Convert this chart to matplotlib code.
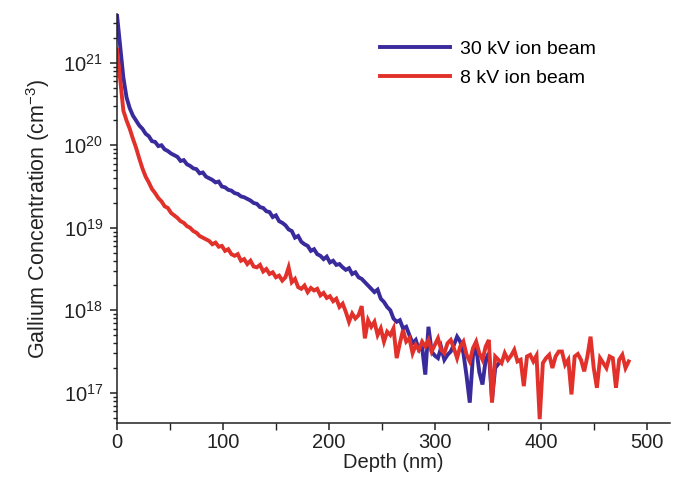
import numpy as np
import matplotlib
matplotlib.use("Agg")
import matplotlib.pyplot as plt
from matplotlib.ticker import LogLocator, FixedLocator, MultipleLocator, NullFormatter, FuncFormatter

plt.rcParams['font.family'] = ['Liberation Sans', 'DejaVu Sans']
plt.rcParams['mathtext.fontset'] = 'custom'
plt.rcParams['mathtext.rm'] = 'Liberation Sans'
plt.rcParams['mathtext.it'] = 'Liberation Sans:italic'
plt.rcParams['mathtext.bf'] = 'Liberation Sans:bold'

# Depth grids (nm)
depth_30kV = np.arange(0, 361, 3)
depth_8kV = np.arange(0, 484, 3)

# log10 of Ga concentration (cm^-3)
log_conc_30kV = [
    21.58, 21.20, 20.82, 20.58, 20.45, 20.36, 20.30, 20.24, 20.20, 20.14,
    20.11, 20.05, 20.04, 19.99, 20.00, 19.95, 19.93, 19.90, 19.88, 19.86,
    19.81, 19.82, 19.77, 19.75, 19.72, 19.71, 19.66, 19.67, 19.62, 19.60,
    19.58, 19.55, 19.56, 19.50, 19.49, 19.46, 19.45, 19.42, 19.41, 19.38,
    19.37, 19.35, 19.33, 19.30, 19.29, 19.25, 19.24, 19.20, 19.19, 19.13,
    19.15, 19.08, 19.06, 19.03, 18.98, 18.96, 18.88, 18.90, 18.83, 18.80,
    18.78, 18.72, 18.74, 18.68, 18.66, 18.62, 18.65, 18.58, 18.60, 18.55,
    18.56, 18.52, 18.49, 18.51, 18.44, 18.46, 18.40, 18.38, 18.34, 18.30,
    18.26, 18.22, 18.25, 18.14, 18.10, 18.04, 18.00, 17.90, 17.86, 17.88,
    17.78, 17.80, 17.70, 17.60, 17.64, 17.52, 17.55, 17.22, 17.80, 17.50,
    17.45, 17.42, 17.55, 17.40, 17.46, 17.50, 17.58, 17.68, 17.62, 17.48,
    17.20, 16.88, 17.45, 17.56, 17.25, 17.10, 17.40, 17.48, 16.92, 17.30,
    17.35,
]

log_conc_8kV = [
    21.16, 20.80, 20.42, 20.30, 20.20, 20.08, 19.97, 19.84, 19.72, 19.62,
    19.55, 19.47, 19.42, 19.36, 19.32, 19.26, 19.24, 19.18, 19.15, 19.12,
    19.08, 19.06, 19.02, 19.00, 18.96, 18.94, 18.90, 18.88, 18.86, 18.84,
    18.80, 18.82, 18.77, 18.78, 18.72, 18.74, 18.68, 18.66, 18.68, 18.60,
    18.62, 18.56, 18.60, 18.53, 18.52, 18.55, 18.47, 18.50, 18.44, 18.46,
    18.40, 18.42, 18.36, 18.40, 18.52, 18.34, 18.38, 18.28, 18.26, 18.30,
    18.22, 18.27, 18.24, 18.26, 18.18, 18.21, 18.15, 18.17, 18.11, 18.14,
    18.04, 18.08, 17.98, 17.86, 17.96, 17.90, 17.94, 18.05, 17.66, 17.88,
    17.80, 17.86, 17.70, 17.78, 17.62, 17.74, 17.70, 17.78, 17.42, 17.60,
    17.76, 17.62, 17.66, 17.48, 17.58, 17.52, 17.62, 17.56, 17.64, 17.50,
    17.58, 17.66, 17.52, 17.48, 17.60, 17.64, 17.54, 17.42, 17.56, 17.62,
    17.46, 17.38, 17.54, 17.62, 17.48, 17.40, 17.56, 17.64, 16.88, 17.44,
    17.40, 17.36, 17.48, 17.40, 17.45, 17.52, 17.38, 17.40, 17.08, 17.44,
    17.46, 17.38, 17.45, 16.68, 17.36, 17.42, 17.46, 17.30, 17.44, 17.50,
    17.50, 17.34, 17.40, 16.98, 17.44, 17.47, 17.40, 17.26, 17.44, 17.68,
    17.30, 17.06, 17.42, 17.36, 17.30, 17.44, 17.42, 17.06, 17.40, 17.46,
    17.30, 17.38,
]

labels = ["30 kV ion beam", "8 kV ion beam"]
colors = ["#3a2b9c", "#e2302a"]
x_ticks = [0, 100, 200, 300, 400, 500]

conc_30kV = 10.0 ** np.array(log_conc_30kV)
conc_8kV = 10.0 ** np.array(log_conc_8kV)

fig = plt.figure(figsize=(6.78, 4.94), dpi=100)
ax = fig.add_axes([117/678, 71/494, 553/678, 409/494])

ax.plot(depth_30kV, conc_30kV, color=colors[0], lw=2.8, label=labels[0], solid_joinstyle='miter')
ax.plot(depth_8kV, conc_8kV, color=colors[1], lw=2.8, label=labels[1], solid_joinstyle='miter')

ax.set_yscale('log')
ax.set_xlim(0, 522)
ax.set_ylim(4.3e16, 3.9e21)

ax.spines['top'].set_visible(False)
ax.spines['right'].set_visible(False)
for s in ['left', 'bottom']:
    ax.spines[s].set_linewidth(1.1)
    ax.spines[s].set_color('#222222')

ax.xaxis.set_major_locator(FixedLocator(x_ticks))
ax.xaxis.set_minor_locator(MultipleLocator(50))
ax.yaxis.set_major_locator(LogLocator(base=10, numticks=20))
ax.yaxis.set_minor_locator(LogLocator(base=10, subs=np.arange(2, 10), numticks=20))
ax.yaxis.set_minor_formatter(NullFormatter())
ax.yaxis.set_major_formatter(FuncFormatter(lambda v, p: r'$\mathregular{10^{%d}}$' % round(np.log10(v))))

ax.tick_params(axis='both', which='major', direction='out', length=5, width=1.1,
               labelsize=14.5, colors='#222222', pad=5)
ax.tick_params(axis='x', which='major', pad=2)
ax.tick_params(axis='both', which='minor', direction='out', length=3, width=1.0, colors='#222222')
ax.tick_params(axis='x', which='minor', length=5)

ax.set_xlabel("Depth (nm)", fontsize=14.5, color='#222222', labelpad=1)
ax.set_ylabel(r"Gallium Concentration (cm$^{\mathregular{-3}}$)", fontsize=15.5, color='#222222', labelpad=8)

leg = ax.legend(loc='upper left', bbox_to_anchor=(0.476, 0.935), frameon=False, fontsize=14,
                handlelength=3.6, handletextpad=0.5, labelspacing=0.55, borderpad=0, borderaxespad=0)

fig.savefig("out.png", dpi=100)
